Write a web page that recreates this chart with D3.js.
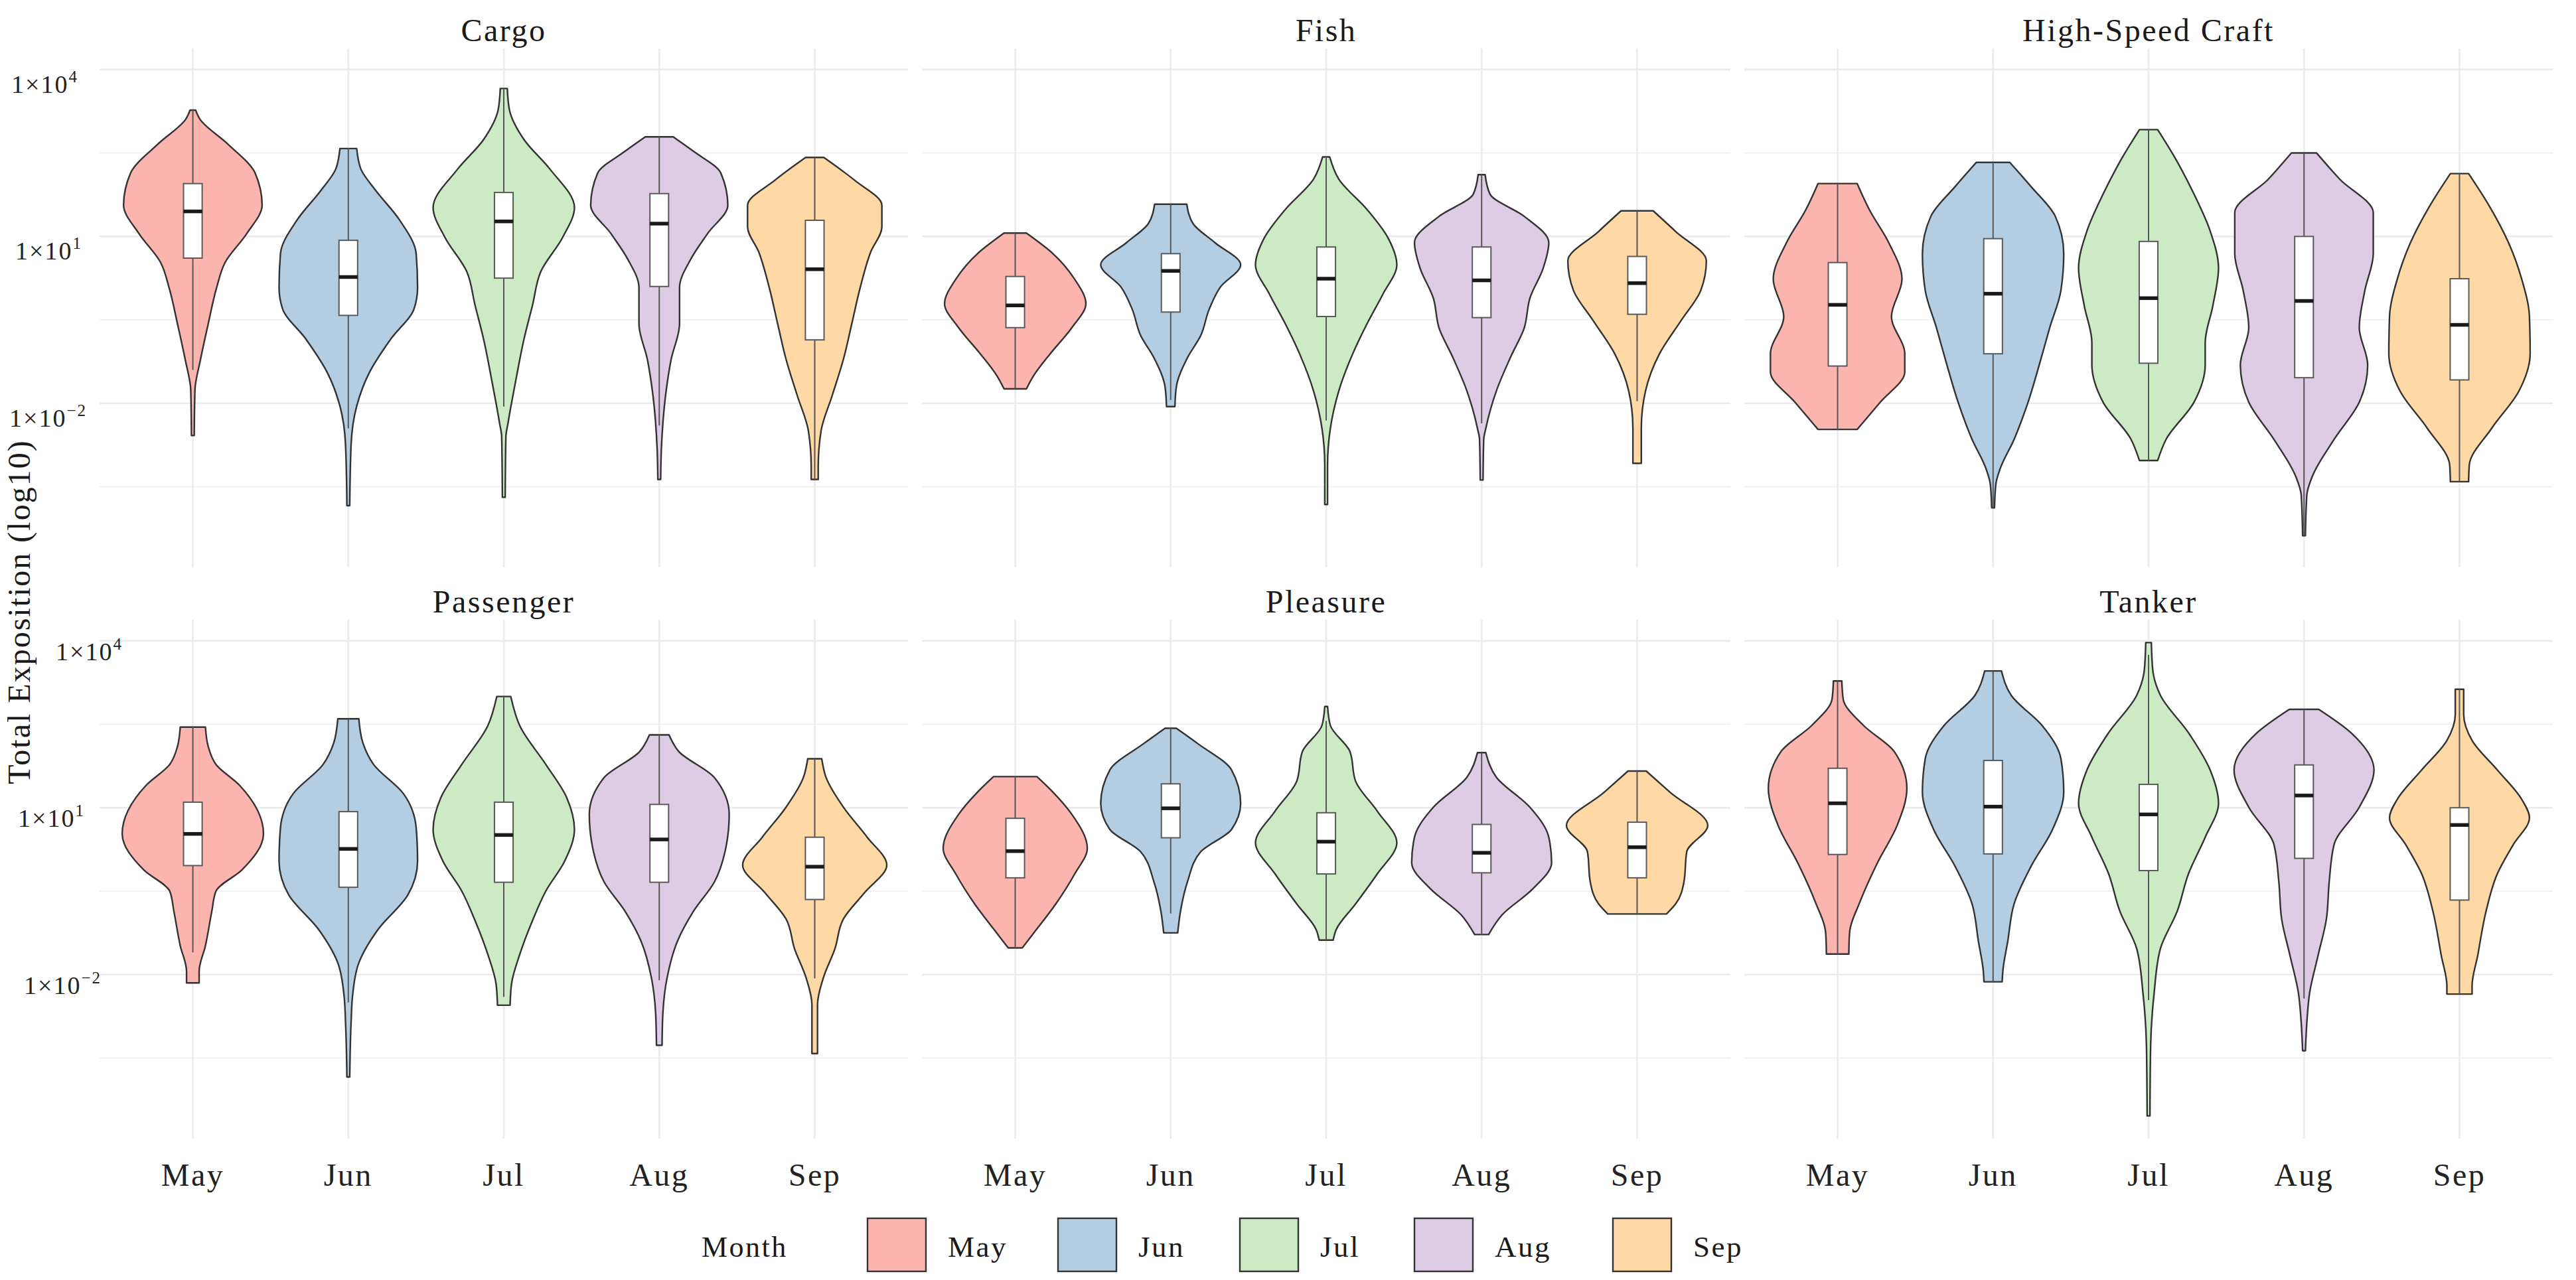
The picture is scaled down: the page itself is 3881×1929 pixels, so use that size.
<!DOCTYPE html>
<html>
<head>
<meta charset="utf-8">
<script src="https://cdn.jsdelivr.net/npm/d3@7"></script>
<style>
html, body { margin: 0; padding: 0; background: #fff; }
svg { display: block; }
text { font-family: "Liberation Serif", "Times New Roman", serif; fill: #1a1a1a; }
</style>
</head>
<body>
<div id="chart"></div>
<script>
// ---- data (all values in log10 units of Total Exposition) ----
var months = ["May", "Jun", "Jul", "Aug", "Sep"];
var vesselTypes = ["Cargo", "Fish", "High-Speed Craft", "Passenger", "Pleasure", "Tanker"];
var monthColors = ["#FBB4AE", "#B3CDE3", "#CCEBC5", "#DECBE4", "#FED9A6"];
var yMajorTicks = [-2, 1, 4];
var yMinorTicks = [-3.5, -0.5, 2.5];
var yTickExponents = ["\u22122", "1", "4"];

// box stats per month: [q1, median, q3, whiskerLow, whiskerHigh]
var cargoBox = [[0.61, 1.45, 1.95, -1.40, 3.27], [-0.42, 0.27, 0.93, -2.45, 2.58], [0.25, 1.27, 1.79, -2.06, 3.66], [0.10, 1.23, 1.77, -2.40, 2.79], [-0.86, 0.41, 1.29, -3.37, 2.42]];
var fishBox = [[-0.64, -0.24, 0.28, -1.74, 1.06], [-0.36, 0.38, 0.69, -1.94, 1.58], [-0.44, 0.24, 0.81, -2.31, 2.43], [-0.46, 0.21, 0.81, -2.36, 2.11], [-0.40, 0.16, 0.64, -1.96, 1.46]];
var hscBox = [[-1.33, -0.23, 0.53, -2.47, 1.95], [-1.11, -0.03, 0.96, -3.88, 2.33], [-1.28, -0.11, 0.91, -3.03, 2.92], [-1.54, -0.16, 1.00, -4.38, 2.50], [-1.58, -0.59, 0.24, -3.41, 2.13]];
var passengerBox = [[-0.04, 0.53, 1.10, -1.60, 2.45], [-0.43, 0.26, 0.93, -2.50, 2.60], [-0.34, 0.51, 1.10, -2.40, 3.00], [-0.34, 0.43, 1.06, -2.10, 2.31], [-0.65, -0.06, 0.47, -2.07, 1.88]];
var pleasureBox = [[-0.26, 0.22, 0.81, -1.52, 1.56], [0.46, 0.99, 1.43, -0.90, 2.43], [-0.19, 0.39, 0.91, -1.38, 2.56], [-0.17, 0.19, 0.70, -1.28, 1.99], [-0.26, 0.29, 0.74, -0.91, 1.66]];
var tankerBox = [[0.16, 1.08, 1.71, -1.63, 3.28], [0.17, 1.02, 1.85, -2.13, 3.46], [-0.13, 0.88, 1.42, -2.46, 3.75], [0.09, 1.22, 1.77, -2.43, 2.77], [-0.66, 0.69, 1.00, -2.35, 3.13]];

// violin outlines per month: [log10 value, relative density], top to bottom
var cargoViolin = [
    [[3.27, 0.04], [3.11, 0.10], [2.66, 0.50], [2.14, 0.89], [1.56, 0.99], [1.05, 0.77], [0.53, 0.46], [0.08, 0.34], [-0.57, 0.22], [-1.21, 0.11], [-1.76, 0.03], [-2.58, 0.02]],
    [[2.58, 0.12], [2.21, 0.18], [1.83, 0.39], [1.30, 0.73], [0.69, 0.97], [0.08, 0.99], [-0.30, 0.94], [-0.84, 0.61], [-1.45, 0.30], [-2.05, 0.12], [-2.74, 0.04], [-3.84, 0.02]],
    [[3.66, 0.05], [3.28, 0.08], [2.74, 0.29], [2.21, 0.66], [1.52, 1.01], [0.98, 0.84], [0.37, 0.53], [-0.24, 0.41], [-0.84, 0.29], [-1.60, 0.17], [-2.36, 0.06], [-2.60, 0.03], [-3.69, 0.02]],
    [[2.79, 0.20], [2.53, 0.49], [2.14, 0.88], [1.56, 0.98], [1.05, 0.69], [0.59, 0.45], [0.08, 0.29], [-0.57, 0.29], [-1.21, 0.17], [-1.86, 0.09], [-2.83, 0.03], [-3.37, 0.02]],
    [[2.42, 0.13], [2.01, 0.57], [1.56, 0.96], [1.17, 0.96], [0.72, 0.80], [0.08, 0.65], [-0.57, 0.53], [-1.21, 0.41], [-1.86, 0.25], [-2.50, 0.09], [-3.15, 0.05], [-3.37, 0.05]]
];
var fishViolin = [
    [[1.06, 0.16], [0.69, 0.54], [0.23, 0.85], [-0.21, 1.01], [-0.64, 0.81], [-1.11, 0.50], [-1.51, 0.26], [-1.74, 0.16]],
    [[1.58, 0.23], [1.23, 0.32], [0.89, 0.63], [0.49, 1.00], [0.09, 0.71], [-0.31, 0.55], [-0.78, 0.43], [-1.18, 0.24], [-1.71, 0.08], [-2.06, 0.06]],
    [[2.43, 0.05], [2.03, 0.18], [1.49, 0.58], [0.96, 0.89], [0.49, 1.01], [-0.04, 0.81], [-0.58, 0.58], [-1.11, 0.38], [-1.78, 0.18], [-2.45, 0.06], [-3.11, 0.02], [-3.82, 0.02]],
    [[2.11, 0.05], [1.76, 0.12], [1.36, 0.61], [0.89, 0.96], [0.43, 0.88], [-0.11, 0.69], [-0.64, 0.61], [-1.18, 0.41], [-1.78, 0.21], [-2.45, 0.06], [-2.65, 0.03], [-3.38, 0.02]],
    [[1.46, 0.23], [1.09, 0.55], [0.56, 0.99], [0.03, 0.91], [-0.51, 0.63], [-1.11, 0.32], [-1.78, 0.12], [-2.45, 0.06], [-3.08, 0.06]]
];
var hscViolin = [
    [[1.95, 0.28], [1.49, 0.45], [0.89, 0.73], [0.23, 0.92], [-0.44, 0.77], [-1.11, 0.96], [-1.44, 0.96], [-1.98, 0.61], [-2.47, 0.28]],
    [[2.33, 0.24], [1.90, 0.54], [1.36, 0.89], [0.69, 1.01], [0.03, 0.97], [-0.64, 0.81], [-1.31, 0.66], [-1.98, 0.50], [-2.65, 0.30], [-3.18, 0.10], [-3.45, 0.04], [-3.88, 0.02]],
    [[2.92, 0.13], [2.43, 0.37], [1.76, 0.65], [1.10, 0.88], [0.43, 1.00], [-0.24, 0.92], [-0.91, 0.81], [-1.31, 0.81], [-1.98, 0.65], [-2.65, 0.25], [-3.03, 0.13]],
    [[2.50, 0.18], [2.03, 0.51], [1.43, 0.99], [0.69, 0.99], [0.03, 0.87], [-0.64, 0.79], [-1.31, 0.91], [-1.98, 0.79], [-2.65, 0.43], [-3.31, 0.12], [-3.65, 0.04], [-4.38, 0.02]],
    [[2.13, 0.13], [1.56, 0.42], [0.89, 0.70], [0.23, 0.89], [-0.44, 1.00], [-1.11, 1.01], [-1.78, 0.85], [-2.45, 0.46], [-3.11, 0.14], [-3.41, 0.13]]
];
var passengerViolin = [
    [[2.45, 0.18], [2.10, 0.22], [1.78, 0.33], [1.40, 0.67], [0.53, 1.01], [-0.12, 0.70], [-0.50, 0.33], [-0.87, 0.27], [-1.48, 0.18], [-1.94, 0.09], [-2.15, 0.09]],
    [[2.60, 0.15], [2.16, 0.21], [1.78, 0.36], [1.25, 0.79], [0.64, 0.97], [0.04, 0.99], [-0.57, 0.85], [-1.18, 0.43], [-1.79, 0.15], [-2.39, 0.06], [-2.85, 0.04], [-3.84, 0.02]],
    [[3.00, 0.10], [2.47, 0.23], [1.78, 0.60], [1.18, 0.90], [0.61, 1.01], [0.04, 0.87], [-0.50, 0.60], [-1.03, 0.41], [-1.63, 0.23], [-2.17, 0.11], [-2.55, 0.09]],
    [[2.31, 0.14], [2.01, 0.28], [1.54, 0.79], [0.88, 1.00], [0.21, 0.94], [-0.33, 0.79], [-0.86, 0.49], [-1.40, 0.26], [-2.07, 0.11], [-2.74, 0.05], [-3.27, 0.04]],
    [[1.88, 0.10], [1.55, 0.16], [1.01, 0.41], [0.47, 0.75], [-0.03, 1.03], [-0.53, 0.71], [-1.00, 0.41], [-1.53, 0.29], [-2.07, 0.12], [-2.54, 0.04], [-3.42, 0.04]]
];
var pleasureViolin = [
    [[1.56, 0.31], [1.28, 0.54], [0.88, 0.81], [0.27, 1.03], [-0.19, 0.85], [-0.73, 0.58], [-1.26, 0.26], [-1.52, 0.10]],
    [[2.43, 0.08], [2.15, 0.39], [1.68, 0.87], [1.08, 1.00], [0.61, 0.87], [0.21, 0.43], [-0.33, 0.24], [-0.86, 0.14], [-1.25, 0.10]],
    [[2.82, 0.02], [2.48, 0.06], [2.01, 0.34], [1.48, 0.42], [0.94, 0.73], [0.37, 1.01], [-0.19, 0.73], [-0.73, 0.42], [-1.20, 0.14], [-1.38, 0.10]],
    [[1.99, 0.06], [1.55, 0.21], [1.01, 0.69], [0.47, 0.96], [0.01, 1.00], [-0.46, 0.73], [-0.93, 0.29], [-1.28, 0.10]],
    [[1.66, 0.13], [1.28, 0.47], [0.68, 1.01], [0.21, 0.71], [-0.33, 0.67], [-0.73, 0.55], [-0.91, 0.42]]
];
var tankerViolin = [
    [[3.28, 0.06], [2.95, 0.08], [2.48, 0.37], [2.01, 0.81], [1.35, 0.99], [0.68, 0.85], [0.01, 0.57], [-0.66, 0.33], [-1.26, 0.17], [-1.63, 0.16]],
    [[3.46, 0.12], [3.02, 0.26], [2.48, 0.70], [1.88, 0.97], [1.28, 1.01], [0.61, 0.85], [-0.06, 0.54], [-0.73, 0.30], [-1.40, 0.21], [-1.93, 0.14], [-2.13, 0.13]],
    [[3.97, 0.04], [3.48, 0.06], [3.02, 0.17], [2.35, 0.57], [1.68, 0.88], [1.08, 1.00], [0.47, 0.81], [-0.19, 0.57], [-0.86, 0.41], [-1.53, 0.17], [-2.33, 0.08], [-3.27, 0.03], [-4.54, 0.02]],
    [[2.77, 0.21], [2.35, 0.67], [1.68, 1.00], [1.01, 0.79], [0.34, 0.43], [-0.33, 0.36], [-1.00, 0.32], [-1.66, 0.20], [-2.33, 0.08], [-2.87, 0.04], [-3.37, 0.02]],
    [[3.13, 0.06], [2.68, 0.06], [2.21, 0.18], [1.68, 0.54], [1.15, 0.89], [0.82, 1.00], [0.34, 0.77], [-0.19, 0.54], [-0.86, 0.38], [-1.66, 0.26], [-2.20, 0.18], [-2.35, 0.18]]
];

var boxStats = [cargoBox, fishBox, hscBox, passengerBox, pleasureBox, tankerBox];
var violins = [cargoViolin, fishViolin, hscViolin, passengerViolin, pleasureViolin, tankerViolin];

// ---- layout ----
var W = 3881, H = 1929;
var panelLeft = 150, panelW = 1218, panelGap = 21;
var rowTop = [73, 934], panelH = 782;
var yDomain = [-4.95, 4.38];
var tickLabelRight = [[131, 124, 118], [153, 128, 185]];
var tickLabelDy = [35, 29];
var legendKeyX = [1307, 1594, 1868, 2131, 2430];

var svg = d3.select("#chart").append("svg")
    .attr("width", W)
    .attr("height", H);

svg.append("rect").attr("width", W).attr("height", H).attr("fill", "#fff");

vesselTypes.forEach(function (type, k) {
    var row = Math.floor(k / 3), col = k % 3;
    var left = panelLeft + col * (panelW + panelGap);
    var top = rowTop[row];

    var x = d3.scalePoint().domain(months).range([left, left + panelW]).padding(0.6);
    var y = d3.scaleLinear().domain(yDomain).range([top + panelH, top]);
    var w = d3.scaleLinear().domain([0, 1]).range([0, 0.45 * x.step()]);
    var boxHalf = 0.06 * x.step();

    var g = svg.append("g").attr("class", "panel");

    // grid
    g.selectAll("line.minor").data(yMinorTicks).enter().append("line")
        .attr("x1", left).attr("x2", left + panelW)
        .attr("y1", function (d) { return y(d); }).attr("y2", function (d) { return y(d); })
        .style("stroke", "#eeeeee").style("stroke-width", 1.6);
    g.selectAll("line.major").data(yMajorTicks).enter().append("line")
        .attr("x1", left).attr("x2", left + panelW)
        .attr("y1", function (d) { return y(d); }).attr("y2", function (d) { return y(d); })
        .style("stroke", "#ebebeb").style("stroke-width", 2.6);
    g.selectAll("line.vgrid").data(months).enter().append("line")
        .attr("x1", function (d) { return x(d); }).attr("x2", function (d) { return x(d); })
        .attr("y1", top).attr("y2", top + panelH)
        .style("stroke", "#ebebeb").style("stroke-width", 2.6);

    // strip title
    g.append("text")
        .attr("x", left + panelW / 2).attr("y", top - 11)
        .attr("text-anchor", "middle")
        .style("font-size", "48px")
        .style("letter-spacing", "2.5px")
        .text(type);

    var area = d3.area().curve(d3.curveMonotoneY);

    months.forEach(function (m, i) {
        var cx = x(m);
        var st = boxStats[k][i];
        area.y(function (d) { return y(d[0]); })
            .x0(function (d) { return cx - w(d[1]); })
            .x1(function (d) { return cx + w(d[1]); });

        g.append("path")
            .attr("d", area(violins[k][i]))
            .style("fill", monthColors[i])
            .style("stroke", "#333")
            .style("stroke-width", 2.4)
            .style("stroke-linejoin", "round");

        g.append("line")
            .attr("x1", cx).attr("x2", cx)
            .attr("y1", y(st[3])).attr("y2", y(st[4]))
            .style("stroke", "#555").style("stroke-width", 2);

        g.append("rect")
            .attr("x", cx - boxHalf).attr("width", 2 * boxHalf)
            .attr("y", y(st[2])).attr("height", y(st[0]) - y(st[2]))
            .style("fill", "#fff").style("stroke", "#5a5a5a").style("stroke-width", 2);

        g.append("line")
            .attr("x1", cx - boxHalf).attr("x2", cx + boxHalf)
            .attr("y1", y(st[1])).attr("y2", y(st[1]))
            .style("stroke", "#1a1a1a").style("stroke-width", 5.5);
    });

    // y tick labels on the left column
    if (col === 0) {
        yMajorTicks.forEach(function (t, j) {
            var lab = svg.append("text")
                .attr("x", tickLabelRight[row][j])
                .attr("y", y(t) + tickLabelDy[row])
                .attr("text-anchor", "end")
                .style("font-size", "38px")
                .style("letter-spacing", "2px")
                .style("fill", "#222");
            lab.append("tspan").text("1\u00d710");
            lab.append("tspan").attr("dy", -16).style("font-size", "25px").text(yTickExponents[j]);
        });
    }

    // x tick labels on the bottom row
    if (row === 1) {
        g.selectAll("text.xlab").data(months).enter().append("text")
            .attr("x", function (d) { return x(d); })
            .attr("y", 1787)
            .attr("text-anchor", "middle")
            .style("font-size", "48px")
            .style("letter-spacing", "2.5px")
            .style("fill", "#222")
            .text(function (d) { return d; });
    }
});

// y axis title
svg.append("text")
    .attr("transform", "translate(45,922) rotate(-90)")
    .attr("text-anchor", "middle")
    .style("font-size", "48px")
    .style("letter-spacing", "2px")
    .text("Total Exposition (log10)");

// legend
var legend = svg.append("g").attr("class", "legend");
legend.append("text")
    .attr("x", 1057).attr("y", 1894)
    .style("font-size", "44px")
    .style("letter-spacing", "2.5px")
    .text("Month");
months.forEach(function (m, i) {
    legend.append("rect")
        .attr("x", legendKeyX[i]).attr("y", 1836)
        .attr("width", 88).attr("height", 80)
        .style("fill", monthColors[i])
        .style("stroke", "#333").style("stroke-width", 2.4);
    legend.append("text")
        .attr("x", legendKeyX[i] + 121).attr("y", 1894)
        .style("font-size", "45px")
        .style("letter-spacing", "2.5px")
        .text(m);
});
</script>
</body>
</html>
